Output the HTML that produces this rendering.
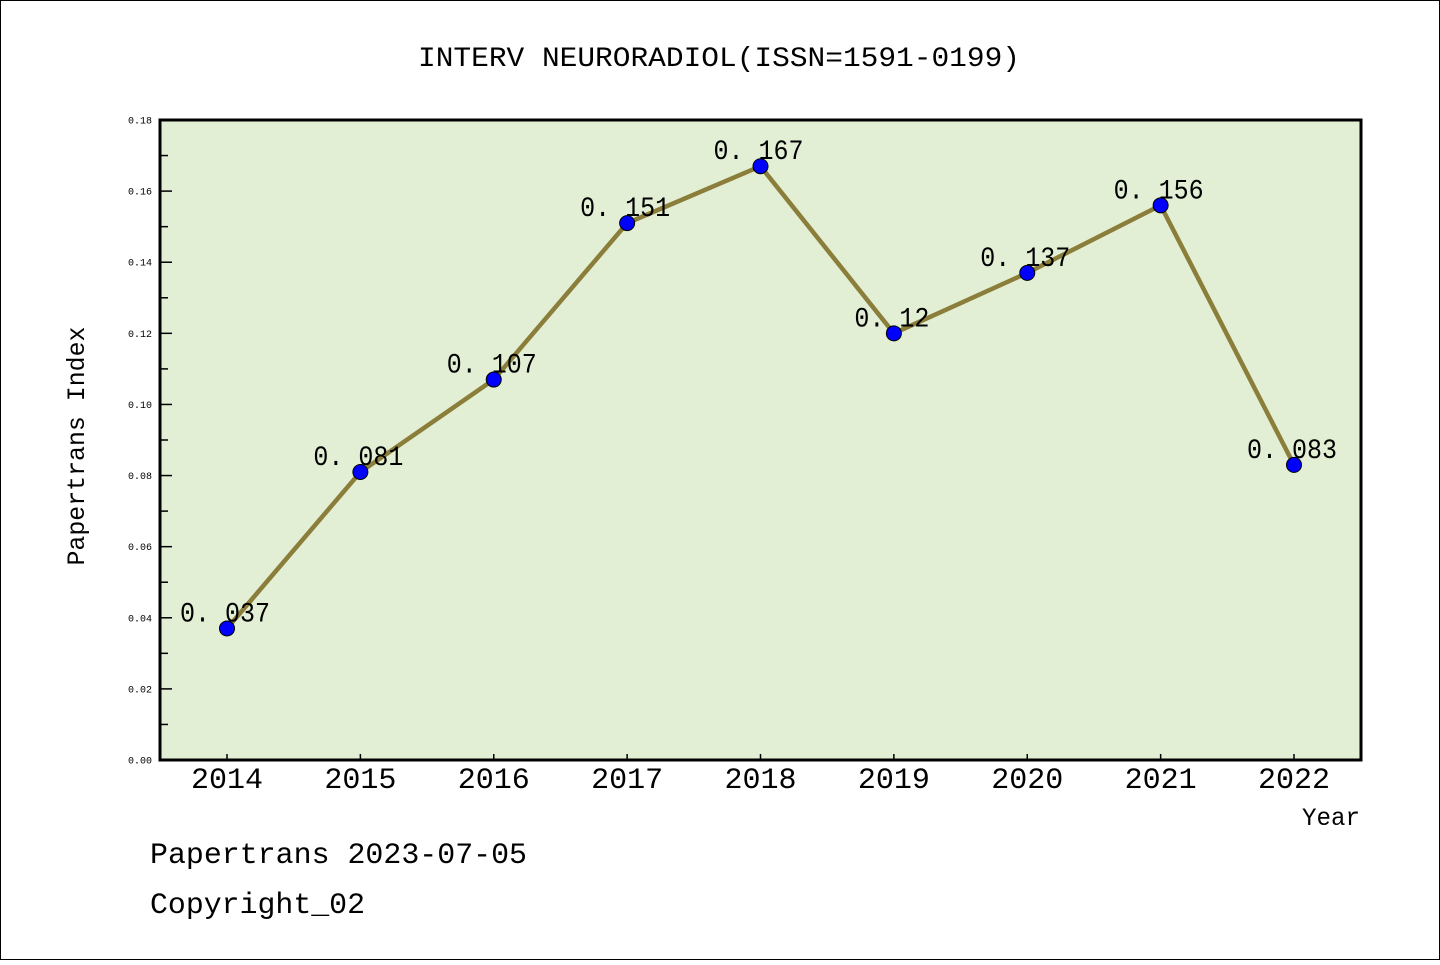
<!DOCTYPE html>
<html><head><meta charset="utf-8"><style>
body{margin:0;background:#fff}
svg text{font-family:"Liberation Mono",monospace}
</style></head><body>
<svg width="1440" height="960" viewBox="0 0 1440 960" xmlns="http://www.w3.org/2000/svg">
<rect x="0.5" y="0.5" width="1439" height="959" fill="#fff" stroke="#000"/>
<text x="418" y="66" font-size="28" textLength="602" lengthAdjust="spacingAndGlyphs">INTERV NEURORADIOL(ISSN=1591-0199)</text>
<rect x="160" y="120" width="1201" height="640" fill="#e2efd4"/>
<g id="axes"></g>
<g id="series"></g>
<rect x="160" y="120" width="1201" height="640" fill="none" stroke="#000" stroke-width="3"/>
<text transform="translate(84,446) rotate(-90)" font-size="25" text-anchor="middle" textLength="239" lengthAdjust="spacingAndGlyphs">Papertrans Index</text>
<text x="1302" y="825" font-size="25" textLength="58" lengthAdjust="spacingAndGlyphs">Year</text>
<text x="150" y="863" font-size="30" textLength="377" lengthAdjust="spacingAndGlyphs">Papertrans 2023-07-05</text>
<text x="150" y="913" font-size="30" textLength="215" lengthAdjust="spacingAndGlyphs">Copyright_02</text>
</svg>
<script>
const years=[2014,2015,2016,2017,2018,2019,2020,2021,2022];
const values=[0.037,0.081,0.107,0.151,0.167,0.12,0.137,0.156,0.083];
const labels=["0. 037","0. 081","0. 107","0. 151","0. 167","0. 12","0. 137","0. 156","0. 083"];
const yTicks=["0.00","0.02","0.04","0.06","0.08","0.10","0.12","0.14","0.16","0.18"];
const NS="http://www.w3.org/2000/svg";
const x=i=>227+i*(1294-227)/(years.length-1);
const y=v=>760-v/0.18*640;
const ax=document.getElementById('axes'),se=document.getElementById('series');
function mk(tag,attrs,parent){const e=document.createElementNS(NS,tag);for(const k in attrs)e.setAttribute(k,attrs[k]);parent.appendChild(e);return e;}
yTicks.forEach((t,i)=>{const v=parseFloat(t);const yy=y(v);
 const l=mk('line',{x1:160,x2:172,y1:yy,y2:yy,stroke:'#000','stroke-width':1.5},ax);
 
 
 const tx=mk('text',{x:152,y:yy+3.5,'font-size':10,'text-anchor':'end','font-family':'Liberation Sans'},ax);tx.textContent=t;
 
 
 if(i<yTicks.length-1){const ym=y(v+0.01);const m=mk('line',{x1:160,x2:168,y1:ym,y2:ym,stroke:'#000','stroke-width':1.5},ax);
 
 }
});
years.forEach((yr,i)=>{const l=mk('line',{x1:x(i),x2:x(i),y1:754,y2:760,stroke:'#000','stroke-width':1.5},ax);
 
 
 const t=mk('text',{x:x(i),y:788,'font-size':30,'text-anchor':'middle',textLength:72,lengthAdjust:'spacingAndGlyphs'},ax);t.textContent=yr;
 
 
});
const pl=mk('polyline',{points:values.map((v,i)=>x(i)+','+y(v)).join(' '),fill:'none',stroke:'#8b7d3a','stroke-width':4.5},se);


values.forEach((v,i)=>{const c=mk('circle',{cx:x(i),cy:y(v),r:7.5,fill:'#0000ff',stroke:'#000','stroke-width':1},se);
 
 
 const t=mk('text',{x:x(i)-2,y:y(v)-7,'font-size':28,'text-anchor':'middle',textLength:labels[i].length*15,lengthAdjust:'spacingAndGlyphs'},se);t.textContent=labels[i];
 
 
});
</script>
</body></html>
